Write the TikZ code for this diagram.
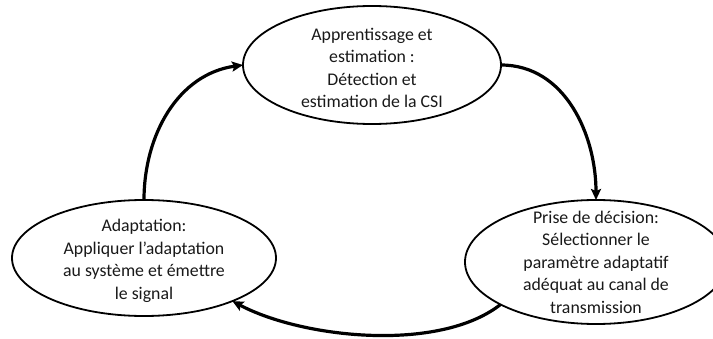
\documentclass[tikz,border=0pt]{standalone}
\usepackage{fontspec}
\setmainfont{Carlito}
\usetikzlibrary{shapes.geometric,arrows.meta}
\begin{document}
\begin{tikzpicture}[x=1pt,y=1pt,
  ell/.style={draw=black, line width=1.8pt, ellipse, inner sep=0pt, outer sep=0pt},
  txt/.style={align=center, inner sep=0pt, font=\fontsize{17.8}{22.5}\selectfont, text=black!90},
  arr/.style={line width=3.2pt, -{Stealth[length=11pt,width=10pt,inset=2pt]}}]
\useasboundingbox (0,0) rectangle (713,338);
\node[ell, minimum width=258pt, minimum height=118pt] (T) at (372,273) {};
\node[ell, minimum width=264pt, minimum height=116pt] (L) at (144,80) {};
\node[ell, minimum width=262pt, minimum height=124pt] (R) at (596,76) {};
\node[txt] (Tt) at (372,270) {Apprentissage et\\estimation :\\Détection et\\estimation de la CSI};
\node[txt] (Lt) at (144,77) {Adaptation:\\Appliquer l’adaptation\\au système et émettre\\le signal};
\node[txt] (Rt) at (596,76) {Prise de décision:\\Sélectionner le\\paramètre adaptatif\\adéquat au canal de\\transmission};
\draw[arr] (L.north) to[out=90,in=188] (T.west);
\draw[arr] (T.east) to[out=0,in=90] (R.north);
\draw[arr] (R.204) to[out=218,in=-28,looseness=0.75] (L.334);
\end{tikzpicture}
\end{document}
